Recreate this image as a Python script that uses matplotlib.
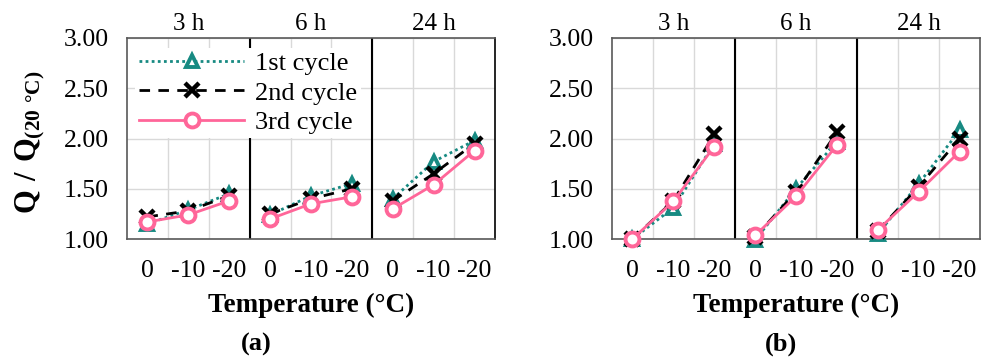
import matplotlib
matplotlib.use('Agg')
import matplotlib.pyplot as plt
from matplotlib.transforms import blended_transform_factory

plt.rcParams['font.family'] = ['Liberation Serif', 'DejaVu Serif']
plt.rcParams['mathtext.fontset'] = 'custom'
plt.rcParams['mathtext.rm'] = 'Liberation Serif'
plt.rcParams['mathtext.bf'] = 'Liberation Serif:bold'

# Data
groups = ['3 h', '6 h', '24 h']
temps = ['0', '-10', '-20']
series = ['1st cycle', '2nd cycle', '3rd cycle']

# panel (a): one row per group (3 h, 6 h, 24 h)
a_1st = [[1.15, 1.29, 1.45], [1.24, 1.43, 1.55], [1.40, 1.77, 1.98]]
a_2nd = [[1.22, 1.28, 1.43], [1.25, 1.40, 1.50], [1.38, 1.65, 1.95]]
a_3rd = [[1.17, 1.24, 1.38], [1.20, 1.35, 1.42], [1.30, 1.54, 1.88]]

# panel (b)
b_1st = [[1.00, 1.31, 1.95], [0.99, 1.50, 1.97], [1.05, 1.55, 2.08]]
b_2nd = [[1.00, 1.38, 2.04], [1.02, 1.47, 2.06], [1.08, 1.52, 2.00]]
b_3rd = [[1.00, 1.375, 1.92], [1.035, 1.425, 1.935], [1.09, 1.47, 1.87]]

teal = '#178a82'
pink = '#ff6699'
styles = [
    dict(color=teal, linestyle=(0, (1, 1.2)), lw=2.0, marker='^', ms=9,
         mfc='white', mec=teal, mew=2.8),
    dict(color='black', linestyle=(0, (3.8, 3.0)), lw=2.0, marker='x', ms=10,
         mew=3.2),
    dict(color=pink, linestyle='-', lw=2.0, marker='o', ms=10,
         mfc='white', mec=pink, mew=2.8),
]

fig = plt.figure(figsize=(9.94, 3.58), dpi=100)
W, H = 994, 358


def make_panel(left_px, data, legend=False):
    ax = fig.add_axes([left_px / W, (H - 239) / H, 368 / W, 201 / H])
    n = len(temps)
    for d, st, name in zip(data, styles, series):
        for g in range(len(groups)):
            xs = [g * n + i for i in range(n)]
            ax.plot(xs, d[g], clip_on=False, zorder=3,
                    label=name if g == 0 else None, **st)
    ax.set_xlim(-0.5, len(groups) * n - 0.5)
    ax.set_ylim(1.0, 3.0)
    ax.set_yticks([1.0, 1.5, 2.0, 2.5, 3.0])
    ax.set_yticklabels(['1.00', '1.50', '2.00', '2.50', '3.00'])
    ax.set_xticks(range(len(groups) * n))
    ax.set_xticklabels(temps * len(groups))
    ax.set_xticks([k + 0.5 for k in range(len(groups) * n - 1)], minor=True)
    ax.tick_params(which='both', length=0, labelsize=18.5)
    ax.tick_params(axis='x', pad=15)
    ax.tick_params(axis='y', pad=13)
    ax.grid(axis='y', which='major', color='#d9d9d9', lw=1.0)
    ax.grid(axis='x', which='minor', color='#d9d9d9', lw=1.0)
    ax.set_axisbelow(True)
    for g in range(1, len(groups)):
        ax.axvline(g * n - 0.5, color='black', lw=1.5, zorder=2.5)
    for sp in ax.spines.values():
        sp.set_color('#595959')
        sp.set_linewidth(1.2)
    tr = blended_transform_factory(ax.transData, ax.transAxes)
    for g, name in enumerate(groups):
        ax.text(g * n + (n - 1) / 2, 1.07, name, transform=tr,
                ha='center', va='center', fontsize=18)
    cx = left_px + 184
    fig.text(cx / W, 1 - 305 / H, 'Temperature (°C)', ha='center',
             va='center', fontsize=19.5, fontweight='bold')
    if legend:
        leg = ax.legend(loc='upper left', bbox_to_anchor=(0.0, 0.99),
                        frameon=True, fontsize=19, handlelength=4.0,
                        labelspacing=0.22, handletextpad=0.4,
                        borderpad=0.15, borderaxespad=0.3)
        leg.get_frame().set_edgecolor('none')
        leg.get_frame().set_facecolor('white')
        leg.get_frame().set_alpha(1.0)
        leg.set_zorder(5)
    return ax


ax_a = make_panel(127, [a_1st, a_2nd, a_3rd], legend=True)
ax_a.spines['right'].set_color('black')
ax_b = make_panel(612, [b_1st, b_2nd, b_3rd])

fig.text(256 / W, 1 - 344 / H, '(a)', ha='center', va='center',
         fontsize=19, fontweight='bold')
fig.text(781 / W, 1 - 344 / H, '(b)', ha='center', va='center',
         fontsize=19, fontweight='bold')

fig.text(30 / W, 1 - 142 / H, r'$\mathbf{Q\ /\ Q_{(20\ °C)}}$',
         rotation=90, ha='center', va='center', fontsize=22)

fig.savefig('out.png', dpi=100)
